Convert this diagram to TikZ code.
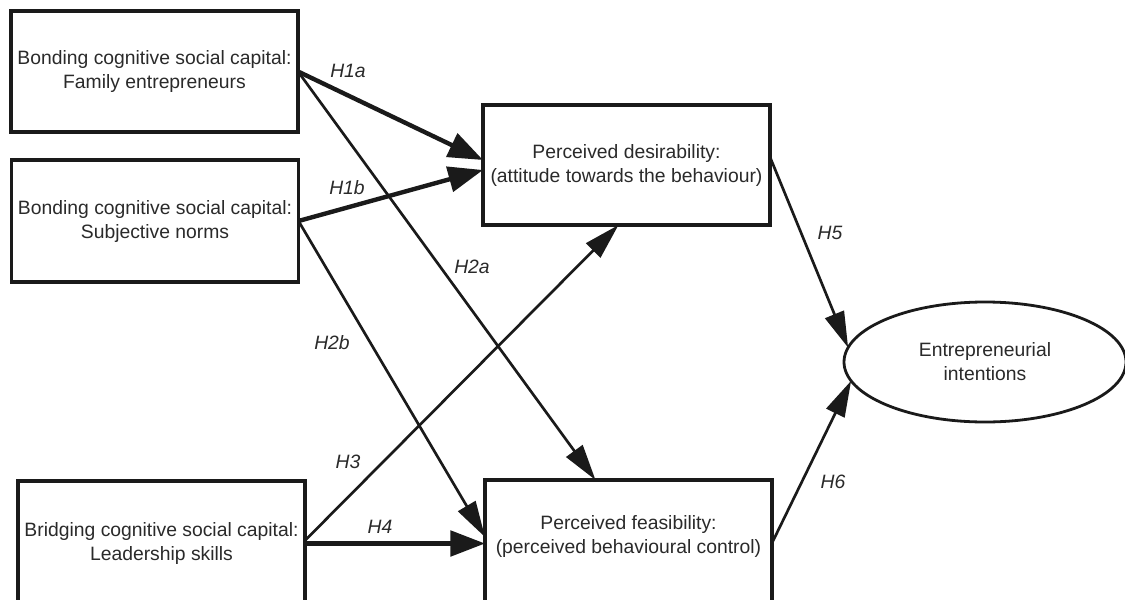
\documentclass[tikz,border=0pt]{standalone}
\usepackage{fontspec}
\setmainfont{Liberation Sans}
\usetikzlibrary{arrows.meta,calc,shapes.geometric}
\definecolor{ink}{HTML}{1A1A1A}
\definecolor{txtgray}{HTML}{2A2A2A}

\begin{document}
\begin{tikzpicture}[x=0.75pt,y=-0.75pt,
  every node/.style={text=txtgray, font=\fontsize{14.5}{18}\selectfont},
  box/.style={draw=ink, line width=2.4pt, rectangle, minimum width=215.25pt,
    align=center, inner sep=0pt, outer sep=0pt},
  outcome/.style={draw=ink, line width=2.1pt, ellipse, minimum width=211.5pt,
    minimum height=90pt, align=center, inner sep=0pt, outer sep=0pt},
  hyp/.style={font=\fontsize{14.5}{18}\selectfont\itshape},
  strong/.style={draw=ink, line width=3.3pt,
    -{Triangle[length=26pt,width=19pt]}},
  weak/.style={draw=ink, line width=2pt,
    -{Triangle[length=27pt,width=15pt]}}
]
% canvas
\useasboundingbox[fill=white] (0,0) rectangle (1125,600);

% antecedent constructs
\node[box, minimum height=90.75pt] (A) at (154.5,71.5)
  {Bonding cognitive social capital:\\Family entrepreneurs};
\node[box, minimum height=91.5pt] (B) at (155,221)
  {Bonding cognitive social capital:\\Subjective norms};
\node[box, minimum height=93.75pt] (C) at (161.5,543.5)
  {Bridging cognitive social capital:\\Leadership skills};

% mediating constructs
\node[box, minimum height=90pt] (D) at (626.5,165)
  {Perceived desirability:\\(attitude towards the behaviour)};
\node[box, minimum height=94.5pt,
  label={[name=Etext, align=center, yshift=5.25pt]center:{Perceived feasibility:\\(perceived behavioural control)}}]
  (E) at (628.5,543) {};

% outcome
\node[outcome] (I) at (985,362) {Entrepreneurial\\intentions};

% hypothesised paths
\draw[strong] (A.east) -- ($(D.west)+(0,-5)$);
\draw[strong] (B.east) -- ($(D.west)+(0,5)$);
\draw[weak] (A.east) -- ($(E.north)+(-33,0)$);
\draw[weak] (B.east) -- ($(E.west)+(0,-6)$);
\draw[weak] ($(C.east)+(0,-3)$) -- ($(D.south)+(-8,0)$);
\draw[strong] (C.east) -- (C.east -| E.west);
\draw[weak] ($(D.east)+(0,-8)$) -- (I.174);
\draw[weak] (E.east) -- (I.188);

% path labels
\node[hyp] (h1a) at (348,71) {H1a};
\node[hyp] (h1b) at (347,188) {H1b};
\node[hyp] (h2a) at (472,267) {H2a};
\node[hyp] (h2b) at (332,343) {H2b};
\node[hyp] (h3) at (348,462) {H3};
\node[hyp] (h4) at (380,527) {H4};
\node[hyp] (h5) at (830,233) {H5};
\node[hyp] (h6) at (833,482) {H6};
\end{tikzpicture}
\end{document}
